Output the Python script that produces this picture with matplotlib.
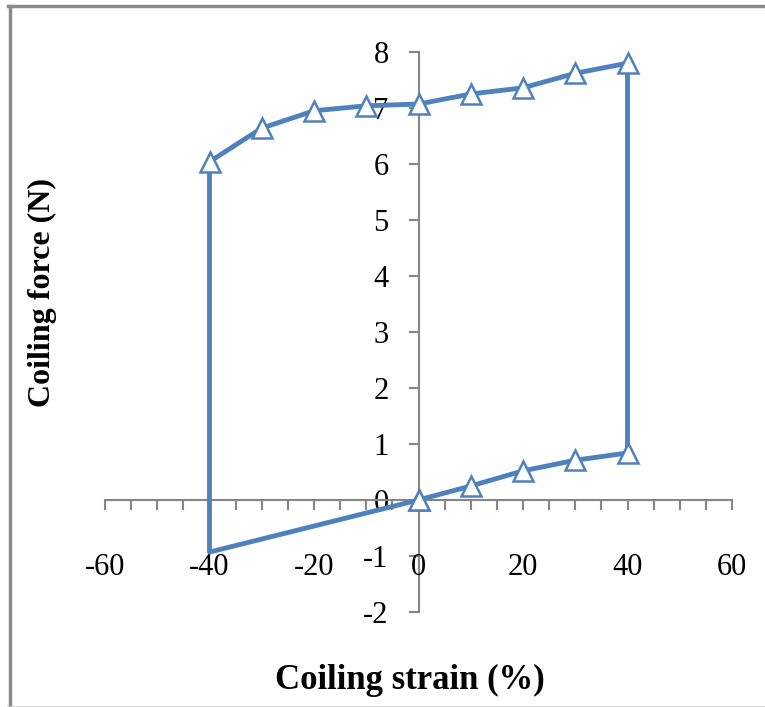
import numpy as np
import matplotlib
matplotlib.use("Agg")
import matplotlib.pyplot as plt
from matplotlib.lines import Line2D

# Coiling loop: loading branch, unloading branch, return
strain = [0, 10, 20, 30, 40, 40, 30, 20, 10, 0, -10, -20, -30, -40, -40, 0]
force = [0, 0.25, 0.52, 0.71, 0.84, 7.80, 7.62, 7.36, 7.25, 7.07, 7.04,
         6.95, 6.64, 6.04, -0.93, 0]
x_labels = [-60, -40, -20, 0, 20, 40, 60]
y_ticks = [-2, -1, 0, 1, 2, 3, 4, 5, 6, 7, 8]

W, H = 765, 707
plt.rcParams['font.family'] = ['Liberation Serif', 'DejaVu Serif']

fig = plt.figure(figsize=(W / 100, H / 100), dpi=100)
# axes box: x -60..60 -> px 105..732, y 8..-2 -> px 52..612
ax = fig.add_axes([105 / W, (H - 612) / H, 627 / W, 560 / H])
ax.set_xlim(-60, 60)
ax.set_ylim(-2, 8)

blue = '#4F81BD'
grey = '#868686'
marks = [i for i in range(len(strain)) if i != 14]
ax.plot(strain, force, color=blue, lw=3.5, marker='^', markersize=14,
        markerfacecolor='white', markeredgecolor=blue, markeredgewidth=1.8,
        markevery=marks, clip_on=False, zorder=5)

for side in ['top', 'right']:
    ax.spines[side].set_visible(False)
ax.spines['left'].set_position(('data', 0))
ax.spines['bottom'].set_position(('data', 0))
for side in ['left', 'bottom']:
    ax.spines[side].set_color(grey)
    ax.spines[side].set_linewidth(1.5)

ax.set_xticks(np.arange(-60, 61, 5))
ax.set_xticklabels([])
ax.tick_params(axis='x', direction='out', length=7.5, width=1.5, color=grey)
ax.set_yticks(y_ticks)
ax.set_yticklabels([str(v) for v in y_ticks], fontsize=22)
ax.tick_params(axis='y', direction='out', length=7.5, width=1.5, color=grey,
               pad=14)

for v in x_labels:
    ax.text(v, -1.2, str(v), fontsize=22, ha='center', va='center')

fig.text(410 / W, 1 - 680 / H, 'Coiling strain (%)', fontsize=25,
         fontweight='bold', ha='center', va='center')
fig.text(42 / W, 1 - 292 / H, 'Coiling force (N)', fontsize=23,
         fontweight='bold', ha='center', va='center', rotation=90)

# chart area border
fig.add_artist(Line2D([9.5 / W, 9.5 / W], [0, 1 - 6 / H], color='#8a8a8a',
                      lw=2.5, transform=fig.transFigure))
fig.add_artist(Line2D([8 / W, 1], [1 - 6 / H, 1 - 6 / H], color='#8a8a8a',
                      lw=2.5, transform=fig.transFigure))
fig.add_artist(Line2D([8 / W, 1], [0.5 / H, 0.5 / H], color='#cccccc',
                      lw=1.2, transform=fig.transFigure))

fig.savefig('out.png', dpi=100)
